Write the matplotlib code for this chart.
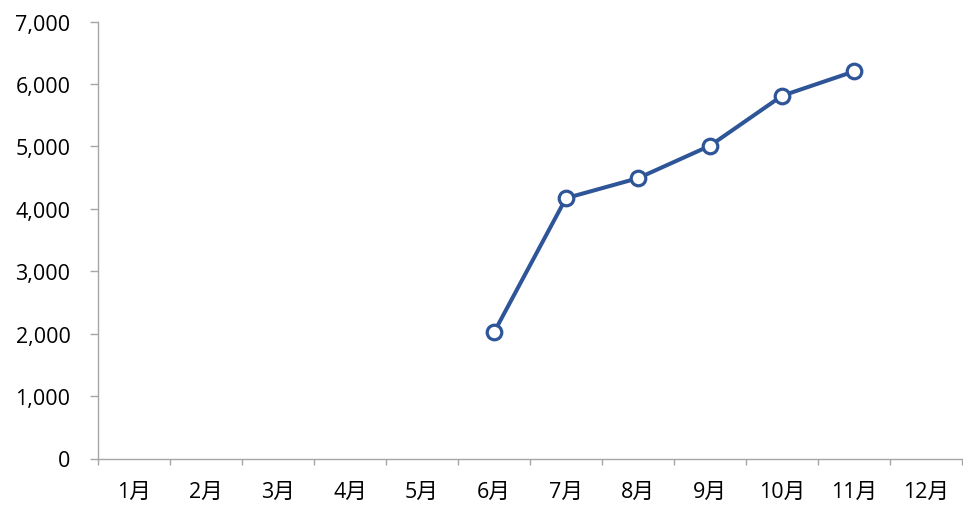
import matplotlib
matplotlib.use("Agg")
import matplotlib.pyplot as plt
from matplotlib.ticker import FuncFormatter, FixedLocator

plt.rcParams['font.family'] = ['Open Sans', 'Noto Sans CJK SC', 'DejaVu Sans']

months = ['1月', '2月', '3月', '4月', '5月', '6月', '7月', '8月', '9月', '10月', '11月', '12月']
series_months = ['6月', '7月', '8月', '9月', '10月', '11月']
series_values = [2020, 4170, 4490, 5010, 5810, 6200]

fig = plt.figure(figsize=(9.63, 5.06), dpi=100)
ax = fig.add_axes([98 / 963, (506 - 459.5) / 506, (962 - 98) / 963, (459.5 - 22.5) / 506])

xs = [months.index(m) + 0.5 for m in series_months]
line_color = '#2E5597'
ax.plot(xs, series_values, color=line_color, lw=2.9, marker='o', markersize=10.5,
        markerfacecolor='white', markeredgecolor=line_color, markeredgewidth=2.3,
        zorder=3, clip_on=False)

ax.set_xlim(0, 12)
ax.set_ylim(0, 7000)

axis_gray = '#A6A6A6'
for side in ('top', 'right'):
    ax.spines[side].set_visible(False)
for side in ('left', 'bottom'):
    ax.spines[side].set_color(axis_gray)
    ax.spines[side].set_linewidth(1.0)

# Category boundaries carry the tick marks; labels sit at category centres
ax.xaxis.set_major_locator(FixedLocator(range(13)))
ax.xaxis.set_minor_locator(FixedLocator([i + 0.5 for i in range(12)]))
ax.set_xticklabels([''] * 13)
ax.set_xticklabels(months, minor=True)
ax.tick_params(axis='x', which='major', direction='out', length=4.3, width=1.0, color=axis_gray)
ax.tick_params(axis='x', which='minor', length=0, pad=16, labelsize=15.5, labelcolor='#000000')

ax.set_yticks(range(0, 7001, 1000))
ax.yaxis.set_major_formatter(FuncFormatter(lambda v, p: f'{int(v):,}'))
ax.tick_params(axis='y', direction='out', length=5.8, width=1.0, color=axis_gray,
               pad=14, labelsize=15.5, labelcolor='#000000')

fig.savefig('out.png', dpi=100)
